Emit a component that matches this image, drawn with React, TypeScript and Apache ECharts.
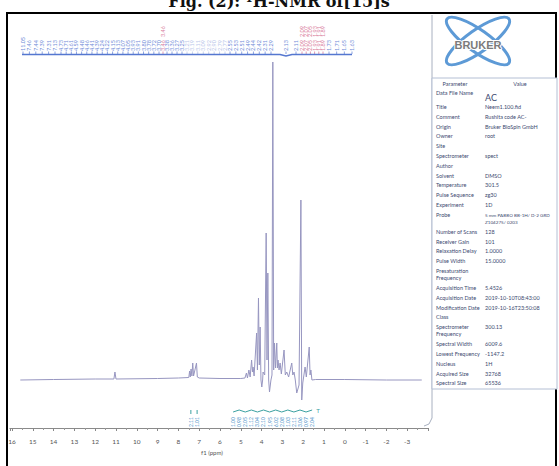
import React, { useEffect, useRef } from 'react';
import * as echarts from 'echarts';

// x axis (ppm) range
const ppmMin = -4;
const ppmMax = 16.1;

// spectrum trace: [ppm, intensity]
const spectrum: [number, number][] = [
  [15.6, 0], [14.0, 0.5], [12.0, 1], [11.1, 1], [11.05, 8], [11.0, 1], [9.0, 1.5], [8.0, 2],
  [7.5, 2.5], [7.46, 9], [7.43, 3], [7.39, 11], [7.35, 4], [7.31, 17], [7.27, 4], [7.13, 17],
  [7.09, 3], [7.0, 2], [6.0, 1.5], [5.0, 1.5], [4.8, 2], [4.73, 7], [4.68, 2], [4.61, 10],
  [4.55, 3], [4.48, 20], [4.44, 8], [4.41, 13], [4.36, 4], [4.24, 47], [4.2, 10], [4.15, 82],
  [4.11, 15], [4.07, 53], [4.03, 0], [3.99, -7], [3.95, 0], [3.93, 8], [3.85, 5], [3.78, 147],
  [3.74, 20], [3.70, 107], [3.66, 0], [3.62, -12], [3.55, 0], [3.50, 5], [3.46, 318], [3.42, 10],
  [3.38, 37], [3.33, 12], [3.27, 37], [3.24, 12], [3.21, 20], [3.16, 10], [3.11, 17], [3.05, 6],
  [2.92, 30], [2.86, 5], [2.79, 8], [2.7, 3], [2.55, 17], [2.5, 5], [2.44, 8], [2.38, 0],
  [2.31, -13], [2.2, -5], [2.11, 180], [2.07, -20], [2.02, -3], [1.91, 13], [1.85, 3],
  [1.71, 33], [1.67, 5], [1.63, 10], [1.58, 0], [1.4, 0.5], [0, 0.5], [-2, 0], [-3.7, 0],
];

// peak-pick labels along the top (groups)
const topLabelsA = ['11.05', '7.46', '7.44', '7.39', '7.31', '7.13'];
const topLabelsB = ['4.73', '4.71', '4.61', '4.59', '4.48', '4.46', '4.41', '4.39', '4.24', '4.22',
  '4.15', '4.13', '4.07', '4.05', '3.93', '3.91', '3.80', '3.78', '3.72', '3.70'];
const topLabelsPink1 = ['3.46'];
const topLabelsC = ['3.38', '3.36', '3.27', '3.25'];
const topLabelsFaint = ['3.21', '3.19', '3.11', '3.09', '2.92', '2.90', '2.79', '2.77'];
const topLabelsD = ['2.55', '2.53', '2.51', '2.49', '2.44', '2.42', '2.31', '2.29'];
const topLabelsE = ['2.13', '2.11'];
const topLabelsPink2 = ['2.09', '2.07', '2.05', '1.93', '1.91', '1.89'];
const topLabelsF = ['1.73', '1.71', '1.65', '1.63'];

// integrals
const integralsAromatic = ['2.11', '1.01'];
const integralsAromaticPpm = [7.4, 7.1];
const integralsAliphatic = ['1.00', '0.98', '2.05', '1.12', '3.04', '2.10', '1.95', '6.02', '2.08',
  '1.03', '2.11', '3.06', '0.97', '2.04'];
const integralsAliphaticRange = [5.37, 1.57];

// parameter table
const paramNames = ['Data File Name', 'Title', 'Comment', 'Origin', 'Owner', 'Site', 'Spectrometer',
  'Author', 'Solvent', 'Temperature', 'Pulse Sequence', 'Experiment', 'Probe', 'Number of Scans',
  'Receiver Gain', 'Relaxation Delay', 'Pulse Width', 'Presaturation\nFrequency', 'Acquisition Time',
  'Acquisition Date', 'Modification Date', 'Class', 'Spectrometer\nFrequency', 'Spectral Width',
  'Lowest Frequency', 'Nucleus', 'Acquired Size', 'Spectral Size'];
const paramValues = ['AC', 'Neem1.100.fid', 'Rushita code AC-', 'Bruker BioSpin GmbH', 'root', '', 'spect',
  '', 'DMSO', '301.5', 'zg30', '1D', '5 mm PABBO BB-1H/ D-2 GRD\nZ104275/ 0203', '128',
  '101', '1.0000', '15.0000', '', '5.4526',
  '2019-10-10T08:43:00', '2019-10-16T23:50:08', '', '300.13', '6009.6',
  '-1147.2', '1H', '32768', '65536'];

const TXT = '#3d4a70';
const FONT = 'Lato, "Liberation Sans", sans-serif';

export default function App() {
  const ref = useRef<HTMLDivElement>(null);
  useEffect(() => {
    const chart = echarts.init(ref.current!, null, { renderer: 'svg' });
    chart.setOption({
      animation: false,
      backgroundColor: '#ffffff',
      grid: { left: 9.9, right: 131, top: 40, bottom: 38 },
      xAxis: {
        type: 'value', inverse: true, min: ppmMin, max: ppmMax, interval: 1,
        axisLine: { onZero: false, lineStyle: { color: '#8a8a8a', width: 1 } },
        axisTick: { length: 3, lineStyle: { color: '#888' } },
        minorTick: { show: true, splitNumber: 2, length: 2, lineStyle: { color: '#999' } },
        splitLine: { show: false },
        axisLabel: {
          fontSize: 6.5, color: '#555', margin: 10, fontFamily: FONT,
          formatter: (v: number) => (v === -4 || v > 16 ? '' : String(v)),
        },
      },
      yAxis: { type: 'value', min: -48, max: 340, show: false },
      series: [{
        type: 'line', data: spectrum, showSymbol: false, smooth: false,
        lineStyle: { color: '#9796c0', width: 1 },
      }],
    });

    const px = (v: number) => chart.convertToPixel({ xAxisIndex: 0 }, v) as number;
    const g: any[] = [];

    // outer frame
    g.push({ type: 'rect', shape: { x: 7, y: 13, width: 549, height: 470 }, style: { fill: 'none', stroke: '#000', lineWidth: 2 } });
    // title (partly cut at top as in the scan)
    g.push({ type: 'text', x: 279, y: 9, style: { text: 'Fig. (2): ¹H-NMR of[15]s', font: 'bold 16px "DejaVu Serif", "Liberation Serif", serif', fill: '#111', align: 'center', verticalAlign: 'bottom' } });

    // top peak labels
    const groups: [string[], number, number, string][] = [
      [topLabelsA, 23, 55, '#6f8cd8'], [topLabelsB, 61, 159, '#6f8cd8'], [topLabelsPink1, 163, 163, '#d97e9c'],
      [topLabelsC, 167, 182, '#6f8cd8'], [topLabelsFaint, 187, 225, '#b9c6ea'], [topLabelsD, 230, 271, '#6f8cd8'],
      [topLabelsE, 286, 296, '#6f8cd8'], [topLabelsPink2, 302, 323, '#d97e9c'], [topLabelsF, 329, 352, '#6f8cd8'],
    ];
    groups.forEach(([labels, x0, x1, col]) => {
      labels.forEach((lab, i) => {
        const x = labels.length > 1 ? x0 + (x1 - x0) * i / (labels.length - 1) : x0;
        g.push({ type: 'text', x, y: 51, rotation: Math.PI / 2, style: { text: lab, fontSize: 5.5, fontFamily: FONT, fill: col, align: 'left', verticalAlign: 'middle' } });
        if (col === '#d97e9c') {
          g.push({ type: 'text', x, y: 37, rotation: Math.PI / 2, style: { text: lab, fontSize: 5.5, fontFamily: FONT, fill: col, align: 'left', verticalAlign: 'middle' } });
        }
        g.push({ type: 'line', shape: { x1: x, y1: 51.5, x2: x, y2: 54 }, style: { stroke: col, lineWidth: 0.8 } });
      });
    });
    g.push({ type: 'polyline', shape: { points: [[22, 54.5], [280, 54.5], [286, 56], [292, 54.5], [352, 54.5]] }, style: { stroke: '#5577d0', lineWidth: 1.5, fill: 'none' } });

    // integrals
    const intCol = '#4a8fc8';
    integralsAromatic.forEach((lab, i) => {
      const x = px(integralsAromaticPpm[i]);
      g.push({ type: 'text', x, y: 427, rotation: Math.PI / 2, style: { text: lab, fontSize: 5, fontFamily: FONT, fill: intCol, align: 'left', verticalAlign: 'middle' } });
      g.push({ type: 'line', shape: { x1: x, y1: 410, x2: x, y2: 414 }, style: { stroke: '#3aa0a0', lineWidth: 1 } });
    });
    const a0 = px(integralsAliphaticRange[0]);
    const a1 = px(integralsAliphaticRange[1]);
    const wig: number[][] = [];
    integralsAliphatic.forEach((lab, i) => {
      const x = a0 + (a1 - a0) * i / (integralsAliphatic.length - 1);
      g.push({ type: 'text', x, y: 427, rotation: Math.PI / 2, style: { text: lab, fontSize: 5, fontFamily: FONT, fill: intCol, align: 'left', verticalAlign: 'middle' } });
      wig.push([x, i % 2 ? 410 : 412]);
    });
    g.push({ type: 'polyline', shape: { points: wig }, style: { stroke: '#3aa0a0', lineWidth: 1, fill: 'none' } });
    g.push({ type: 'text', x: a1 + 6, y: 411, style: { text: 'T', fontSize: 6, fill: '#3aa0a0', align: 'center', verticalAlign: 'middle' } });

    // axis name
    g.push({ type: 'text', x: 212, y: 452, style: { text: 'f1 (ppm)', fontSize: 6, fontFamily: FONT, fill: '#555', align: 'center', verticalAlign: 'middle' } });

    // separator
    g.push({ type: 'polyline', shape: { points: [[432, 15], [432, 418], [429, 424], [424, 426]] }, style: { stroke: '#a8b0c0', lineWidth: 1, fill: 'none' } });

    // Bruker logo
    [0.62, -0.62].forEach((r) => {
      g.push({ type: 'ellipse', x: 478, y: 41, rotation: r, shape: { cx: 0, cy: 0, rx: 38, ry: 11 }, style: { fill: 'none', stroke: '#5d9ad6', lineWidth: 3 } });
    });
    g.push({ type: 'text', x: 478, y: 45, style: { text: 'BRUKER', font: 'bold 11px "Liberation Sans", sans-serif', fill: '#7b7b7b', align: 'center', verticalAlign: 'middle', stroke: '#fff', lineWidth: 2 } });

    // parameter table
    g.push({ type: 'rect', shape: { x: 432, y: 78, width: 125, height: 311 }, style: { fill: '#fff', stroke: '#b4bfd4', lineWidth: 1 } });
    g.push({ type: 'text', x: 455, y: 84, style: { text: 'Parameter', fontSize: 5.5, fontFamily: FONT, fill: TXT, align: 'center', verticalAlign: 'middle' } });
    g.push({ type: 'text', x: 520, y: 84, style: { text: 'Value', fontSize: 5.5, fontFamily: FONT, fill: TXT, align: 'center', verticalAlign: 'middle' } });
    let y = 93;
    paramNames.forEach((name, i) => {
      const val = paramValues[i];
      const nl = name.split('\n');
      const vl = val.split('\n');
      nl.forEach((t, k) => g.push({ type: 'text', x: 436, y: y + k * 7, style: { text: t, fontSize: 5.5, fontFamily: FONT, fill: TXT, align: 'left', verticalAlign: 'middle' } }));
      if (i === 0) {
        g.push({ type: 'text', x: 485, y: y + 4, style: { text: val, fontSize: 9, fontFamily: FONT, fill: TXT, align: 'left', verticalAlign: 'middle' } });
      } else {
        vl.forEach((t, k) => g.push({ type: 'text', x: 485, y: y + k * 7, style: { text: t, fontSize: vl.length > 1 ? 4.6 : 5.5, fontFamily: FONT, fill: TXT, align: 'left', verticalAlign: 'middle' } }));
      }
      const lines = Math.max(nl.length, vl.length);
      y += i === 0 ? 14 : lines > 1 ? 17 : 9.8;
    });

    chart.setOption({ graphic: g });
    return () => chart.dispose();
  }, []);
  return <div ref={ref} style={{ position: 'fixed', left: 0, top: 0, width: 559, height: 466, background: '#fff' }} />;
}
